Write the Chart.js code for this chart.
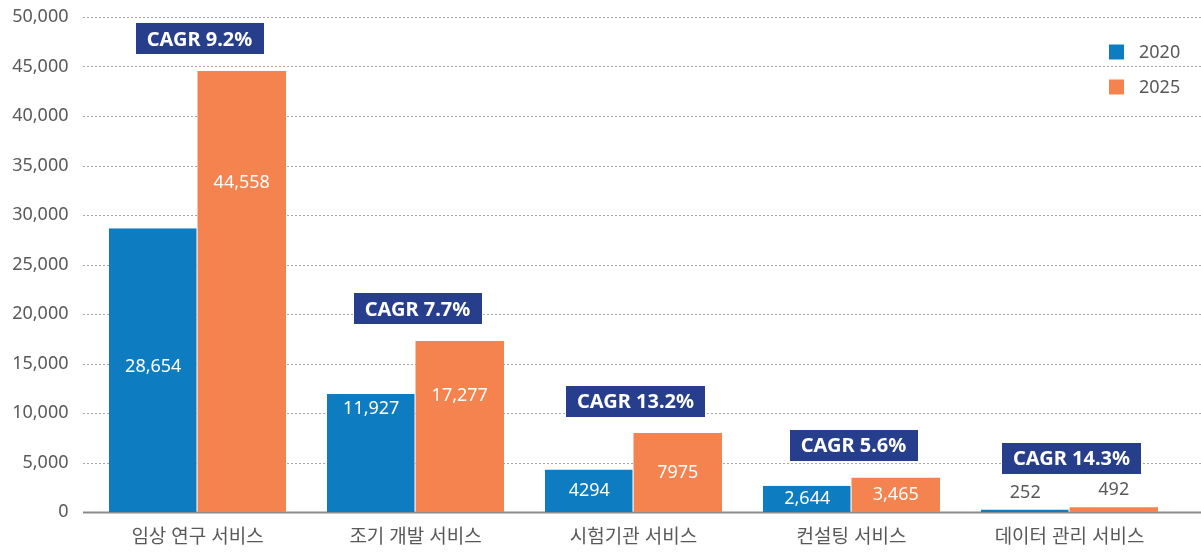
<!DOCTYPE html>
<html><head><meta charset="utf-8">
<script src="https://cdn.jsdelivr.net/npm/chart.js@4"></script>
<style>html,body{margin:0;padding:0;background:#fff}#wrap{width:1201px;height:552px;position:relative}</style>
</head><body><div id="wrap"><canvas id="c"></canvas></div>
<script>
const categories = ['임상 연구 서비스', '조기 개발 서비스', '시험기관 서비스', '컨설팅 서비스', '데이터 관리 서비스'];
const series2020 = [28654, 11927, 4294, 2644, 252];
const series2025 = [44558, 17277, 7975, 3465, 492];
const labels2020 = ['28,654', '11,927', '4294', '2,644', '252'];
const labels2025 = ['44,558', '17,277', '7975', '3,465', '492'];
const cagrLabels = ['CAGR 9.2%', 'CAGR 7.7%', 'CAGR 13.2%', 'CAGR 5.6%', 'CAGR 14.3%'];
const seriesNames = ['2020', '2025'];
const yTicks = [0, 5000, 10000, 15000, 20000, 25000, 30000, 35000, 40000, 45000, 50000];

const BLUE = '#0e7cc1', ORANGE = '#f4834f', NAVY = '#273e8d', GRAY = '#595959';
const NUMFONT = '"Noto Sans", "Noto Sans CJK KR", sans-serif';

const gridPlugin = {
  id: 'grid',
  beforeDatasetsDraw(chart) {
    const ctx = chart.ctx, y = chart.scales.y;
    ctx.save();
    yTicks.forEach(v => {
      const py = Math.round(y.getPixelForValue(v)) + 0.5;
      ctx.beginPath();
      if (v === 0) {
        ctx.setLineDash([]);
        ctx.strokeStyle = '#8a8a8a';
        ctx.lineWidth = 2;
      } else {
        ctx.setLineDash([2, 2]);
        ctx.strokeStyle = '#a6a6a6';
        ctx.lineWidth = 1;
      }
      ctx.moveTo(83, py);
      ctx.lineTo(1201, py);
      ctx.stroke();
    });
    ctx.restore();
  }
};

const labelPlugin = {
  id: 'labels',
  afterDatasetsDraw(chart, args, opts) {
    const ctx = chart.ctx;
    ctx.save();
    ctx.textAlign = 'center';
    ctx.textBaseline = 'middle';
    const tops = [];
    [labels2020, labels2025].forEach((labs, di) => {
      const meta = chart.getDatasetMeta(di);
      const anchors = (opts.anchors && opts.anchors[di]) || [];
      meta.data.forEach((bar, i) => {
        const h = bar.base - bar.y;
        let ly;
        ctx.font = '18px ' + NUMFONT;
        const outside = h < 18;
        if (outside) {
          ly = bar.y - 17;
          ctx.fillStyle = GRAY;
        } else {
          const f = anchors[i] !== undefined ? anchors[i] : 0.5;
          ly = bar.y + h * f;
          ctx.fillStyle = '#ffffff';
        }
        ctx.fillText(labs[i], bar.x, ly);
        const top = outside ? ly : bar.y;
        tops[i] = tops[i] === undefined ? top : Math.min(tops[i], top);
      });
    });
    // CAGR boxes
    const xs = chart.scales.x;
    ctx.font = 'bold 20px ' + NUMFONT;
    cagrLabels.forEach((t, i) => {
      const cx = xs.getPixelForValue(i) + 2;
      const cy = tops[i] - 32;
      const w = ctx.measureText(t).width + 22;
      const hgt = 31;
      ctx.fillStyle = NAVY;
      ctx.fillRect(Math.round(cx - w / 2), Math.round(cy - hgt / 2), Math.round(w), hgt);
      ctx.fillStyle = '#ffffff';
      ctx.fillText(t, cx, cy + 1);
    });
    // legend
    const cols = [BLUE, ORANGE];
    ctx.textAlign = 'left';
    ctx.font = '18px ' + NUMFONT;
    seriesNames.forEach((n, i) => {
      const yy = 52 + i * 35;
      ctx.fillStyle = cols[i];
      ctx.fillRect(1109, yy - 7.5, 15, 15);
      ctx.fillStyle = GRAY;
      ctx.fillText(n, 1139, yy + 1);
    });
    ctx.restore();
  }
};

new Chart(document.getElementById('c'), {
  type: 'bar',
  data: {
    labels: categories,
    datasets: [
      { label: seriesNames[0], data: series2020, backgroundColor: BLUE, borderColor: '#ffffff', borderWidth: { right: 1, left: 0, top: 0, bottom: 0 }, borderSkipped: false },
      { label: seriesNames[1], data: series2025, backgroundColor: ORANGE, borderWidth: 0 }
    ]
  },
  options: {
    responsive: true,
    maintainAspectRatio: false,
    animation: false,
    devicePixelRatio: 1,
    layout: { padding: { top: 17, right: 22.5, left: 0, bottom: 0 } },
    plugins: {
      legend: { display: false }, tooltip: { enabled: false },
      labels: { anchors: [[0.49, 0.13, 0.5, 0.5, 0.5], [0.253, 0.32, 0.5, 0.5, 0.5]] }
    },
    datasets: { bar: { categoryPercentage: 0.812, barPercentage: 1 } },
    scales: {
      x: {
        grid: { display: false, drawTicks: false },
        border: { display: false },
        ticks: { color: GRAY, font: { family: NUMFONT, size: 19 }, padding: 14, maxRotation: 0 },
        afterFit(s) { s.height = 40; s.paddingLeft = 0; s.paddingRight = 0; }
      },
      y: {
        min: 0, max: 50000,
        afterBuildTicks(s) { s.ticks = yTicks.map(v => ({ value: v })); },
        grid: { display: false, drawTicks: false },
        border: { display: false },
        ticks: { color: GRAY, font: { family: NUMFONT, size: 18 }, padding: 20,
          callback: v => v.toLocaleString('en-US') },
        afterFit(s) { s.width = 88.5; s.paddingTop = 0; s.paddingBottom = 0; }
      }
    }
  },
  plugins: [gridPlugin, labelPlugin]
});
</script></body></html>
